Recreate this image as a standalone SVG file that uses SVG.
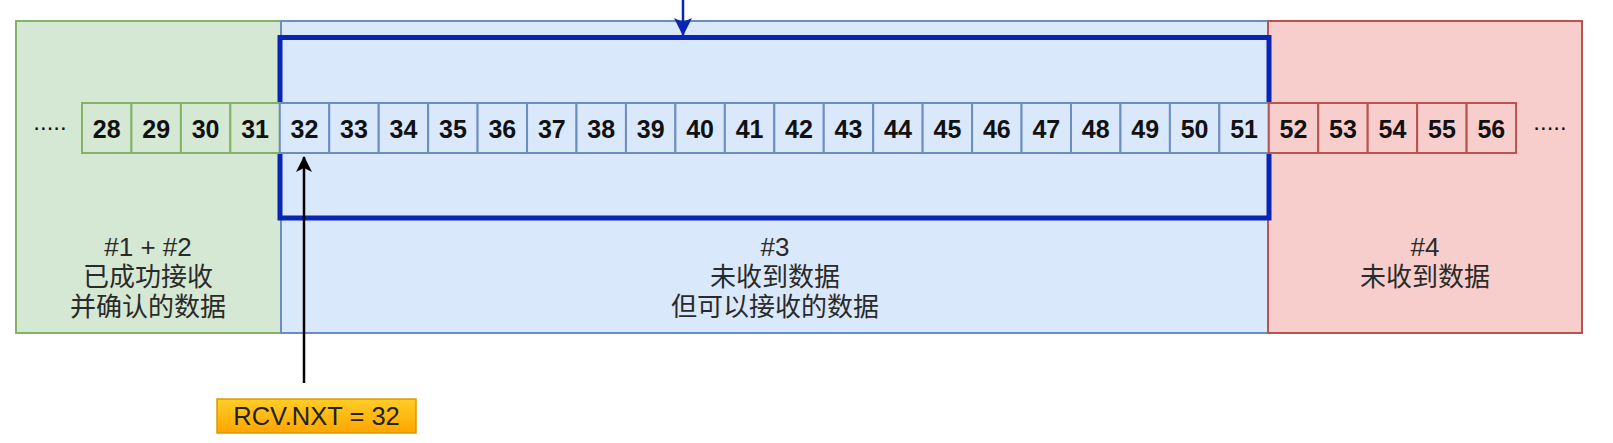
<svg xmlns="http://www.w3.org/2000/svg" width="1613" height="443" viewBox="0 0 1613 443">
<style>
.lbl{font-family:"Liberation Sans","Noto Sans CJK SC",sans-serif;font-size:26px;fill:#2a2a2a;text-anchor:middle}
.num{font-family:"Liberation Sans",sans-serif;font-size:25px;font-weight:bold;fill:#111;text-anchor:middle;dominant-baseline:central}
.dots{font-family:"Liberation Sans",sans-serif;font-size:24px;fill:#111;text-anchor:middle}
.g rect{fill:#d5e8d4;stroke:#82b366;stroke-width:2}
.b rect{fill:#dae8fc;stroke:#6c8ebf;stroke-width:2}
.r rect{fill:#f8cecc;stroke:#b85450;stroke-width:2}
</style>
<defs>
<linearGradient id="og" x1="0" y1="0" x2="0" y2="1"><stop offset="0" stop-color="#ffcd28"/><stop offset="1" stop-color="#ffa500"/></linearGradient>
<marker id="ak" viewBox="0 0 16 16" refX="15" refY="8" markerWidth="16" markerHeight="16" markerUnits="userSpaceOnUse" orient="auto"><path d="M0,0 L16,8 L0,16 L4,8 Z" fill="#000"/></marker>
<marker id="ab" viewBox="0 0 18 18" refX="17" refY="9" markerWidth="18" markerHeight="18" markerUnits="userSpaceOnUse" orient="auto"><path d="M0,0 L18,9 L0,18 L4,9 Z" fill="#0a24b4"/></marker>
</defs>
<g id="region-acked" class="g"><rect x="16" y="21" width="265" height="312"/>
<text class="lbl" x="148" y="256">#1 + #2</text><text class="lbl" x="148" y="286">已成功接收</text><text class="lbl" x="148" y="316">并确认的数据</text></g>
<g id="region-window" class="b"><rect x="281" y="21" width="987" height="312"/>
<text class="lbl" x="775" y="256">#3</text><text class="lbl" x="775" y="286">未收到数据</text><text class="lbl" x="775" y="316">但可以接收的数据</text></g>
<g id="region-notrecv" class="r"><rect x="1268" y="21" width="314" height="312"/>
<text class="lbl" x="1425" y="256">#4</text><text class="lbl" x="1425" y="286">未收到数据</text></g>
<g id="window-frame"><rect x="280" y="37.5" width="989" height="180.5" fill="none" stroke="#0a24b4" stroke-width="5"/></g>
<g id="dots-left"><text class="dots" x="50" y="130">.....</text></g>
<g id="dots-right"><text class="dots" x="1550" y="130">.....</text></g>
<g id="cells-acked" class="g">
<rect x="82" y="103" width="49.45" height="50"/><rect x="131.45" y="103" width="49.45" height="50"/><rect x="180.9" y="103" width="49.45" height="50"/><rect x="230.35" y="103" width="49.45" height="50"/>
</g>
<g id="cells-window" class="b">
<rect x="279.8" y="103" width="49.45" height="50"/><rect x="329.25" y="103" width="49.45" height="50"/><rect x="378.7" y="103" width="49.45" height="50"/><rect x="428.15" y="103" width="49.45" height="50"/><rect x="477.6" y="103" width="49.45" height="50"/><rect x="527.05" y="103" width="49.45" height="50"/><rect x="576.5" y="103" width="49.45" height="50"/><rect x="625.95" y="103" width="49.45" height="50"/><rect x="675.4" y="103" width="49.45" height="50"/><rect x="724.85" y="103" width="49.45" height="50"/><rect x="774.3" y="103" width="49.45" height="50"/><rect x="823.75" y="103" width="49.45" height="50"/><rect x="873.2" y="103" width="49.45" height="50"/><rect x="922.65" y="103" width="49.45" height="50"/><rect x="972.1" y="103" width="49.45" height="50"/><rect x="1021.55" y="103" width="49.45" height="50"/><rect x="1071" y="103" width="49.45" height="50"/><rect x="1120.45" y="103" width="49.45" height="50"/><rect x="1169.9" y="103" width="49.45" height="50"/><rect x="1219.35" y="103" width="49.45" height="50"/>
</g>
<g id="cells-notrecv" class="r">
<rect x="1268.8" y="103" width="49.45" height="50"/><rect x="1318.25" y="103" width="49.45" height="50"/><rect x="1367.7" y="103" width="49.45" height="50"/><rect x="1417.15" y="103" width="49.45" height="50"/><rect x="1466.6" y="103" width="49.45" height="50"/>
</g>
<g id="cell-numbers">
<text class="num" x="106.7" y="129">28</text><text class="num" x="156.2" y="129">29</text><text class="num" x="205.6" y="129">30</text><text class="num" x="255.1" y="129">31</text>
<text class="num" x="304.5" y="129">32</text><text class="num" x="354" y="129">33</text><text class="num" x="403.4" y="129">34</text><text class="num" x="452.9" y="129">35</text><text class="num" x="502.3" y="129">36</text><text class="num" x="551.8" y="129">37</text><text class="num" x="601.2" y="129">38</text><text class="num" x="650.7" y="129">39</text><text class="num" x="700.1" y="129">40</text><text class="num" x="749.6" y="129">41</text><text class="num" x="799" y="129">42</text><text class="num" x="848.5" y="129">43</text><text class="num" x="897.9" y="129">44</text><text class="num" x="947.4" y="129">45</text><text class="num" x="996.8" y="129">46</text><text class="num" x="1046.3" y="129">47</text><text class="num" x="1095.7" y="129">48</text><text class="num" x="1145.2" y="129">49</text><text class="num" x="1194.6" y="129">50</text><text class="num" x="1244.1" y="129">51</text>
<text class="num" x="1293.5" y="129">52</text><text class="num" x="1343" y="129">53</text><text class="num" x="1392.4" y="129">54</text><text class="num" x="1441.9" y="129">55</text><text class="num" x="1491.3" y="129">56</text>
</g>
<g id="rcv-nxt"><rect x="217" y="399" width="199" height="34" fill="url(#og)" stroke="#d79b00" stroke-width="1.5"/>
<text x="316.5" y="425" font-family="Liberation Sans, sans-serif" font-size="25.5" fill="#222" text-anchor="middle">RCV.NXT = 32</text></g>
<g id="connectors">
<line x1="304" y1="383" x2="304" y2="157" stroke="#000" stroke-width="2.5" marker-end="url(#ak)"/>
<line x1="683" y1="0" x2="683" y2="35" stroke="#0a24b4" stroke-width="2.5" marker-end="url(#ab)"/>
</g>
</svg>
